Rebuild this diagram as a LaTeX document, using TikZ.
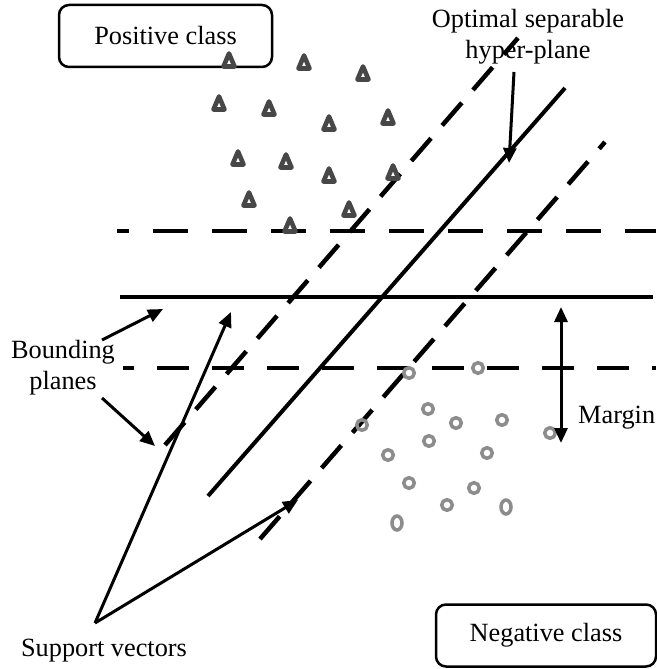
\documentclass[tikz,border=0pt]{standalone}
\usepackage{fontspec}
\setmainfont{Liberation Serif}
\usetikzlibrary{arrows.meta}
\begin{document}
\begin{tikzpicture}[x=1pt,y=-1pt,
  lbl/.style={font=\fontsize{26.3}{31.5}\selectfont, inner sep=0pt, align=center},
  classbox/.style={draw, line width=2.5pt, rounded corners=10pt, minimum width=213pt, minimum height=62pt, inner sep=0pt, font=\fontsize{26.3}{31.5}\selectfont},
  solidln/.style={line width=4pt},
  dashh/.style={line width=4.5pt, dash pattern=on 35pt off 24pt},
  dashl/.style={line width=4.5pt, dash pattern=on 32pt off 23pt},
  dashd/.style={line width=4.5pt, dash pattern=on 30pt off 17pt},
  arr/.style={line width=3pt, -{Triangle[length=15pt,width=13pt]}},
  darr/.style={line width=3pt, {Triangle[length=15pt,width=13pt]}-{Triangle[length=15pt,width=13pt]}},
  tri/.style={draw=black!72, line width=4.6pt, line join=round},
  circ/.style={draw=black!45, line width=3.5pt}
]
\useasboundingbox (0,0) rectangle (656,669);

% class boxes
\node[classbox] (pos) at (165.5,36) {Positive class};
\node[classbox, minimum width=220pt] (neg) at (546,635.5) {Negative class};

% horizontal planes
\coordinate (hu1) at (117,231); \coordinate (hu2) at (656,231);
\coordinate (hm1) at (120,297); \coordinate (hm2) at (653,297);
\coordinate (hl1) at (123,368); \coordinate (hl2) at (656,368);
\draw[dashh, dash phase=23pt] (hu1) -- (hu2);
\draw[solidln] (hm1) -- (hm2);
\draw[dashl, dash phase=21pt] (hl1) -- (hl2);

% diagonal planes
\coordinate (du1) at (165,445); \coordinate (du2) at (518,38);
\coordinate (dm1) at (208,496); \coordinate (dm2) at (565,88);
\coordinate (dl1) at (260,539); \coordinate (dl2) at (605,142);
\draw[dashd] (du1) -- (du2);
\draw[solidln] (dm1) -- (dm2);
\draw[dashd] (dl1) -- (dl2);

% positive class triangles
\foreach \x/\y in {229/60, 304/62, 363/73, 219/103, 269/108, 329/123, 388/117,
                   238/158, 286/161, 329/175, 393/172, 249/199, 349/209, 290/225}
  \draw[tri] (\x-5.5,\y+6.5) -- (\x,\y-6.5) -- (\x+5.5,\y+6.5) -- cycle;

% negative class circles
\foreach \x/\y in {409/373, 478/368, 428/409, 456/423, 502/420, 550/433, 362/425,
                   429/441, 388/455, 487/453, 409/483, 474/488, 447/505}
  \draw[circ] (\x,\y) circle[radius=5.3pt];
\draw[circ] (506,507) ellipse[x radius=5pt, y radius=7pt];
\draw[circ] (397,523) ellipse[x radius=5pt, y radius=7pt];

% labels
\node[lbl, anchor=north] (opt) at (528,9) {Optimal separable\\hyper-plane};
\node[lbl, anchor=north] (bp) at (63,340) {Bounding\\planes};
\node[lbl, anchor=base] (sv) at (104,656) {Support vectors};
\node[lbl, anchor=base west] (mg) at (578,423) {Margin};

% arrows
\coordinate (optS) at (514,72);  \coordinate (optE) at (509,163);
\draw[arr] (optS) -- (optE);
\coordinate (bpS1) at (102,340); \coordinate (bpE1) at (163,309);
\coordinate (bpS2) at (102,398); \coordinate (bpE2) at (155,446);
\draw[arr] (bpS1) -- (bpE1);
\draw[arr] (bpS2) -- (bpE2);
\coordinate (svA) at (95,623);
\coordinate (svE1) at (231,312); \coordinate (svE2) at (298,500);
\draw[arr] (svA) -- (svE1);
\draw[arr] (svA) -- (svE2);
\coordinate (mgT) at (561,307); \coordinate (mgB) at (561,443);
\draw[darr] (mgT) -- (mgB);
\end{tikzpicture}
\end{document}
